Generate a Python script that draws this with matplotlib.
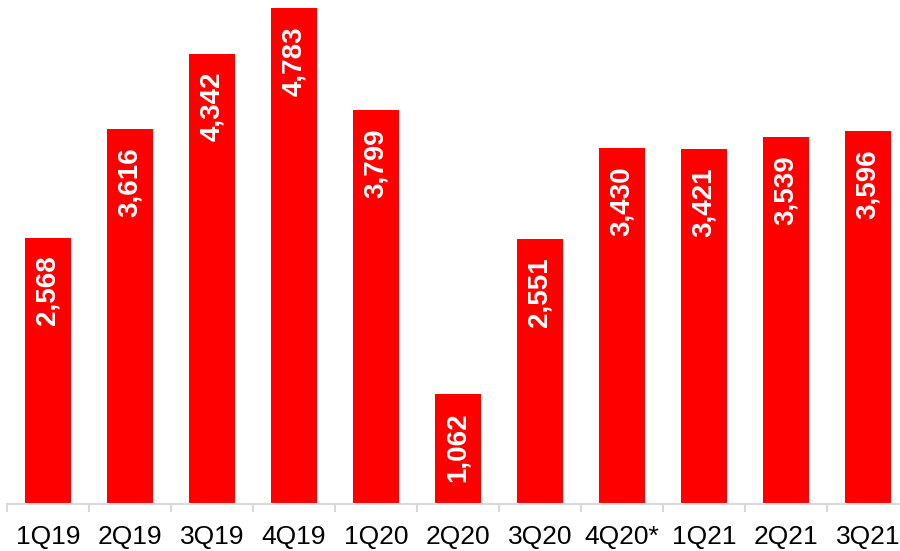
import matplotlib.pyplot as plt
import numpy as np

# quarterly values
quarters = ['1Q19', '2Q19', '3Q19', '4Q19', '1Q20', '2Q20', '3Q20', '4Q20*', '1Q21', '2Q21', '3Q21']
values = [2568, 3616, 4342, 4783, 3799, 1062, 2551, 3430, 3421, 3539, 3596]
labels = ['2,568', '3,616', '4,342', '4,783', '3,799', '1,062', '2,551', '3,430', '3,421', '3,539', '3,596']

plt.rcParams['font.family'] = ['Liberation Sans', 'DejaVu Sans']

fig = plt.figure(figsize=(9, 5.51), dpi=100)
ax = fig.add_axes([7/900, 47/551, 902/900, 504/551])

x = np.arange(len(quarters))
bars = ax.bar(x, values, width=0.55, color='#ff0000')

for b, lab in zip(bars, labels):
    ax.annotate(lab, (b.get_x() + b.get_width()/2, b.get_height()),
                xytext=(0, -13), textcoords='offset points',
                rotation=90, ha='center', va='top',
                color='white', fontsize=20, fontweight='bold')

ax.set_xlim(-0.5, len(quarters) - 0.5)
ax.set_ylim(0, 4860)

for s in ['top', 'right', 'left']:
    ax.spines[s].set_visible(False)
ax.spines['bottom'].set_color('#d9d9d9')
ax.spines['bottom'].set_linewidth(1.5)

ax.set_yticks([])
ax.set_xticks(x)
ax.set_xticklabels(quarters, fontsize=19)
ax.tick_params(axis='x', which='major', length=0, pad=15)
ax.set_xticks(np.arange(len(quarters) + 1) - 0.5, minor=True)
ax.tick_params(axis='x', which='minor', length=6, width=1.5, color='#d9d9d9')

fig.savefig('out.png', dpi=100)
